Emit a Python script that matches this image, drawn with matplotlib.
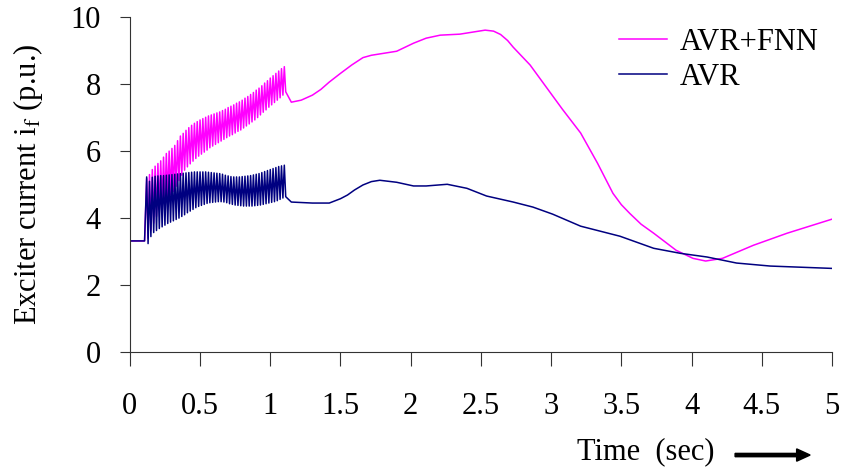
import numpy as np
import matplotlib
matplotlib.use("Agg")
import matplotlib.pyplot as plt

plt.rcParams["font.family"] = ["Liberation Serif", "DejaVu Serif"]
plt.rcParams["mathtext.fontset"] = "stix"

# steady state before the disturbance
pre_t = [0.0, 0.105]
pre_v = [3.32, 3.32]

# oscillating part: one peak and one trough per cycle
osc_t = np.linspace(0.12, 1.10, 50)
fnn_peak = [5.18, 5.30, 5.45, 5.55, 5.63, 5.71, 5.82, 5.93, 6.00, 6.08,
            6.17, 6.31, 6.45, 6.53, 6.62, 6.70, 6.77, 6.83, 6.88, 6.93,
            6.97, 7.01, 7.05, 7.08, 7.11, 7.14, 7.17, 7.21, 7.25, 7.30,
            7.34, 7.38, 7.43, 7.47, 7.52, 7.58, 7.63, 7.69, 7.75, 7.82,
            7.88, 7.95, 8.03, 8.10, 8.18, 8.25, 8.32, 8.39, 8.46, 8.52]
fnn_trough = [3.40, 3.64, 3.85, 4.05, 4.25, 4.40, 4.52, 4.62, 4.70, 4.80,
              4.95, 5.12, 5.28, 5.43, 5.53, 5.62, 5.70, 5.78, 5.85, 5.91,
              5.97, 6.03, 6.10, 6.15, 6.20, 6.25, 6.30, 6.35, 6.40, 6.45,
              6.49, 6.54, 6.59, 6.63, 6.69, 6.75, 6.81, 6.87, 6.93, 7.00,
              7.08, 7.16, 7.23, 7.31, 7.38, 7.45, 7.52, 7.59, 7.67, 7.77]
avr_peak = [5.23, 5.10, 5.22, 5.25, 5.26, 5.27, 5.27, 5.28, 5.29, 5.30,
            5.31, 5.32, 5.33, 5.34, 5.35, 5.36, 5.37, 5.38, 5.38, 5.38,
            5.38, 5.38, 5.37, 5.36, 5.35, 5.34, 5.33, 5.31, 5.28, 5.26,
            5.24, 5.23, 5.23, 5.23, 5.24, 5.25, 5.26, 5.27, 5.29, 5.31,
            5.33, 5.36, 5.39, 5.42, 5.45, 5.48, 5.51, 5.54, 5.56, 5.58]
avr_trough = [3.24, 3.45, 3.57, 3.63, 3.69, 3.74, 3.79, 3.84, 3.88, 3.92,
              3.96, 4.00, 4.05, 4.10, 4.16, 4.21, 4.26, 4.31, 4.35, 4.38,
              4.41, 4.44, 4.46, 4.47, 4.48, 4.49, 4.49, 4.48, 4.46, 4.43,
              4.41, 4.39, 4.38, 4.37, 4.36, 4.36, 4.36, 4.36, 4.37, 4.38,
              4.39, 4.41, 4.43, 4.45, 4.47, 4.49, 4.52, 4.56, 4.60, 4.64]

# smooth part after the oscillation dies out
fnn_t = [1.15, 1.22, 1.30, 1.36, 1.42, 1.50, 1.58, 1.66, 1.72, 1.78, 1.90,
         2.02, 2.11, 2.21, 2.35, 2.44, 2.53, 2.59, 2.64, 2.69, 2.73, 2.85,
         2.97, 3.08, 3.21, 3.33, 3.44, 3.50, 3.56, 3.64, 3.73, 3.89, 4.01,
         4.10, 4.22, 4.44, 4.68, 5.00]
fnn_v = [7.46, 7.52, 7.67, 7.84, 8.06, 8.32, 8.57, 8.79, 8.86, 8.90, 8.98,
         9.22, 9.37, 9.46, 9.49, 9.55, 9.61, 9.58, 9.48, 9.30, 9.10, 8.57,
         7.88, 7.25, 6.54, 5.64, 4.74, 4.40, 4.14, 3.82, 3.55, 3.04, 2.80,
         2.72, 2.80, 3.19, 3.55, 3.97]
avr_t = [1.15, 1.30, 1.42, 1.50, 1.55, 1.60, 1.66, 1.72, 1.78, 1.90, 2.02,
         2.11, 2.26, 2.40, 2.54, 2.73, 2.87, 3.01, 3.21, 3.49, 3.73, 3.92,
         4.11, 4.32, 4.56, 5.00]
avr_v = [4.48, 4.45, 4.45, 4.58, 4.69, 4.84, 4.99, 5.09, 5.13, 5.07, 4.96,
         4.96, 5.01, 4.89, 4.66, 4.48, 4.33, 4.12, 3.76, 3.46, 3.10, 2.95,
         2.84, 2.66, 2.57, 2.50]


def build(peak, trough, tail_t, tail_v):
    t = list(pre_t)
    v = list(pre_v)
    for ti, hi, lo in zip(osc_t, peak, trough):
        t += [ti, ti + 0.01]
        v += [hi, lo]
    return t + tail_t, v + tail_v


fig = plt.figure(figsize=(8.43, 4.74), dpi=100)
ax = fig.add_axes([0.154, 0.257, 0.833, 0.707])

t1, v1 = build(fnn_peak, fnn_trough, fnn_t, fnn_v)
t2, v2 = build(avr_peak, avr_trough, avr_t, avr_v)
ax.plot(t1, v1, color="#FF00FF", lw=1.1, label="AVR+FNN")
ax.plot(t2, v2, color="#000080", lw=1.1, label="AVR")

ax.set_xlim(0, 5)
ax.set_ylim(0, 10)
ax.set_xticks(np.arange(0, 5.01, 0.5))
ax.set_xticklabels(["0", "0.5", "1", "1.5", "2", "2.5", "3", "3.5", "4", "4.5", "5"])
ax.set_yticks(range(0, 11, 2))
ax.spines["top"].set_visible(False)
ax.spines["right"].set_visible(False)
for s in ("left", "bottom"):
    ax.spines[s].set_color("#333333")
ax.tick_params(axis="x", direction="out", length=10, pad=19, labelsize=22, color="#333333")
ax.tick_params(axis="y", direction="out", length=7, pad=14, labelsize=22, color="#333333")
ax.set_ylabel("Exciter current i$_{\\mathrm{f}}$ (p.u.)", fontsize=22, labelpad=18)

fig.text(0.848, 0.046, "Time  (sec)", fontsize=22, ha="right", va="center")
fig.patches.append(matplotlib.patches.FancyArrow(
    0.872, 0.04, 0.089, 0, width=0.007, head_width=0.026, head_length=0.016,
    length_includes_head=True, color="black", transform=fig.transFigure))

ax.legend(loc="upper right", bbox_to_anchor=(1.02, 1.05), frameon=False,
          fontsize=22, handlelength=1.6, handletextpad=0.4, labelspacing=0.2)

fig.savefig("out.png", dpi=100)
